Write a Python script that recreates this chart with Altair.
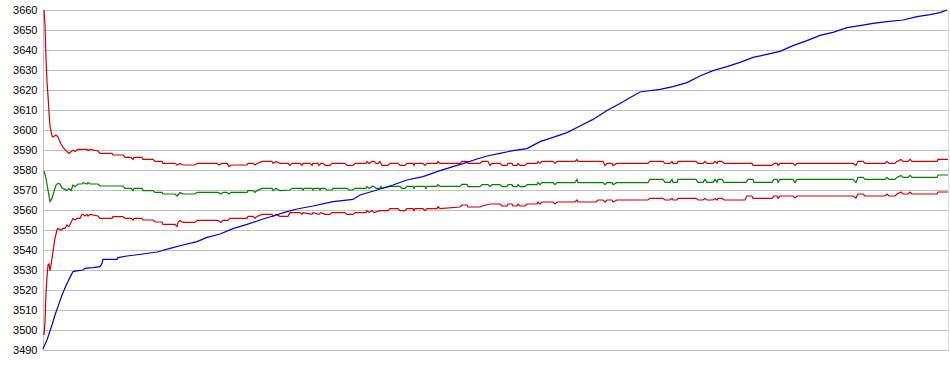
import altair as alt
import pandas as pd

# y-axis tick labels
y_ticks = list(range(3490, 3661, 10))

# Blue series (rising)
blue_x = [0, 1, 4, 9, 12, 15, 19, 24, 29, 30, 35, 40, 42, 50, 57, 59, 60, 74, 75, 84, 100, 114, 127, 140,
          154, 164, 177, 190, 204, 217, 230, 244, 254, 270, 290, 310, 317, 334, 350, 364, 380, 397, 414,
          424, 434, 444, 457, 470, 484, 497, 510, 524, 537, 550, 564, 577, 590, 597, 604, 617, 630, 644,
          657, 670, 684, 697, 710, 724, 737, 750, 764, 777, 790, 804, 817, 830, 844, 860, 874, 887, 897, 904]
blue_v = [3490.5, 3491.7, 3495, 3502.5, 3507.5, 3511.7, 3517.5, 3523.3, 3528.3, 3529.2, 3529.7, 3530,
          3530.8, 3531.2, 3531.7, 3533.3, 3535.3, 3535.3, 3536.2, 3537, 3538, 3539, 3540.8, 3542.5,
          3544.2, 3546.3, 3548, 3550.7, 3552.8, 3555, 3557, 3559.2, 3560.5, 3562, 3564.2, 3565.3, 3567.5,
          3570, 3572.5, 3575, 3576.7, 3579.7, 3582.3, 3583.8, 3585.5, 3587, 3588.3, 3589.7, 3590.7,
          3594.2, 3596.3, 3598.7, 3602, 3605.3, 3609.7, 3613.3, 3617, 3619, 3619.5, 3620.3, 3621.7,
          3623.7, 3627, 3629.7, 3631.7, 3633.8, 3636.3, 3637.8, 3639.3, 3642.2, 3644.7, 3647.3, 3648.8,
          3651.2, 3652.2, 3653.3, 3654.2, 3655, 3656.7, 3657.7, 3658.7, 3660]

# Upper red band
upper_x = [1, 2, 3, 4, 5, 6, 7, 9, 10, 13, 15, 18, 20, 23, 26, 30, 32, 35, 44, 45, 47, 55, 57, 69, 70, 80,
           82, 88, 90, 91, 99, 100, 110, 112, 119, 120, 132, 134, 137, 140, 152, 154, 174, 176, 179, 184,
           186, 188, 204, 205, 210, 212, 214, 219, 229, 230, 233, 237, 245, 247, 249, 257, 259, 260, 267,
           269, 270, 275, 276, 278, 280, 282, 287, 289, 302, 304, 310, 312, 323, 324, 326, 329, 331, 333,
           335, 337, 339, 345, 347, 355, 357, 362, 364, 370, 371, 372, 380, 382, 384, 394, 395, 397, 417,
           419, 424, 425, 437, 439, 445, 447, 449, 457, 459, 464, 465, 469, 470, 474, 475, 477, 482, 484,
           494, 495, 497, 499, 510, 512, 514, 532, 534, 535, 560, 562, 564, 569, 570, 574, 605, 607, 620,
           622, 627, 629, 630, 634, 635, 653, 655, 660, 662, 664, 670, 672, 674, 675, 679, 681, 709, 710,
           729, 731, 734, 735, 737, 750, 752, 754, 810, 813, 815, 820, 822, 842, 844, 846, 852, 854, 858,
           860, 865, 867, 869, 894, 895, 905]
upper_v = [3660, 3652.5, 3636, 3624, 3617, 3609, 3602, 3597, 3596.5, 3597.5, 3596.5, 3593, 3591.3, 3589.7,
           3588.3, 3590, 3589.2, 3590.3, 3590.3, 3589.7, 3590.3, 3589.5, 3588.3, 3588.3, 3587.5, 3587.5,
           3586.3, 3586.3, 3585.3, 3586.3, 3586.3, 3585.3, 3585.3, 3584.3, 3584.3, 3583.3, 3583.3, 3582.5,
           3583.3, 3582.5, 3582.5, 3583.3, 3583.3, 3582.5, 3583.3, 3583.3, 3581.7, 3582.5, 3582.5, 3583.3,
           3583.3, 3582.5, 3583.3, 3584.3, 3584.3, 3583.3, 3584.3, 3583.3, 3583.3, 3582.3, 3583.3, 3583.3,
           3582.3, 3583.3, 3583.3, 3582.3, 3583.3, 3583.3, 3582.3, 3583.3, 3583.3, 3582.3, 3582.3, 3583.3,
           3583.3, 3582.3, 3582.3, 3583.3, 3583.3, 3584.3, 3583.3, 3584.3, 3584.3, 3583.3, 3583.3, 3584.3,
           3582.3, 3582.3, 3583.3, 3583.3, 3582.3, 3582.3, 3583.3, 3583.3, 3582.3, 3583.3, 3583.3, 3582.3,
           3583.3, 3583.3, 3584.3, 3583.3, 3583.3, 3584.3, 3584.3, 3583.3, 3583.3, 3584.3, 3584.3, 3582.3,
           3583.3, 3583.3, 3582.3, 3582.3, 3583.3, 3583.3, 3582.3, 3582.3, 3583.3, 3582.3, 3582.3, 3583.3,
           3583.3, 3584.3, 3583.3, 3584.3, 3584.3, 3583.3, 3584.3, 3584.3, 3585.3, 3584.3, 3584.3, 3582.3,
           3583.3, 3583.3, 3582.3, 3583.3, 3583.3, 3584.3, 3584.3, 3583.3, 3583.3, 3584.3, 3583.3, 3583.3,
           3584.3, 3584.3, 3583.3, 3583.3, 3584.3, 3583.3, 3583.3, 3584.3, 3583.3, 3584.3, 3584.3, 3583.3,
           3583.3, 3582.3, 3582.3, 3583.3, 3583.3, 3582.3, 3583.3, 3583.3, 3582.3, 3583.3, 3583.3, 3582.3,
           3584.3, 3584.3, 3583.3, 3583.3, 3584.3, 3583.3, 3583.3, 3584.3, 3585.3, 3584.3, 3584.3, 3585.3,
           3584.3, 3584.3, 3585.3, 3585.3]

# Middle green line
mid_x = [1, 3, 5, 7, 9, 11, 13, 15, 17, 19, 22, 24, 26, 28, 30, 32, 35, 39, 40, 44, 45, 47, 55, 57, 80, 82,
         88, 90, 91, 99, 100, 110, 112, 119, 120, 132, 134, 137, 140, 152, 154, 175, 178, 180, 184, 186,
         188, 204, 205, 210, 212, 214, 219, 229, 230, 233, 237, 247, 249, 259, 260, 261, 269, 270, 271,
         276, 277, 278, 282, 284, 289, 290, 304, 306, 310, 312, 323, 324, 326, 329, 331, 333, 337, 338,
         339, 347, 357, 359, 362, 364, 370, 371, 372, 382, 383, 384, 394, 395, 397, 417, 419, 424, 425,
         437, 439, 445, 447, 449, 457, 459, 464, 465, 469, 470, 474, 475, 477, 482, 484, 494, 495, 497,
         499, 510, 512, 514, 532, 534, 535, 560, 562, 564, 569, 570, 574, 605, 607, 620, 622, 627, 629,
         630, 634, 635, 653, 655, 660, 662, 664, 670, 672, 674, 675, 679, 681, 703, 705, 710, 711, 729,
         731, 734, 735, 737, 750, 752, 754, 810, 813, 815, 820, 822, 842, 844, 846, 852, 854, 858, 860,
         865, 867, 869, 894, 895, 905]
mid_v = [3579.5, 3575.8, 3570, 3564.2, 3565.8, 3569.2, 3572.5, 3573.3, 3573, 3571, 3570.3, 3569.7, 3570.8,
         3569.7, 3572.5, 3571.7, 3573, 3573, 3573.7, 3573, 3573.7, 3573, 3573, 3572, 3572, 3570.8, 3570.8,
         3569.7, 3570.8, 3570.8, 3569.7, 3569.7, 3568.8, 3568.8, 3568, 3568, 3567, 3568.7, 3568, 3568,
         3568.8, 3568.8, 3568, 3568.8, 3568.8, 3568, 3568.8, 3568.8, 3569.7, 3569.7, 3568.8, 3569.7,
         3570.8, 3570.8, 3569.7, 3570.8, 3569.7, 3570, 3570.8, 3570.8, 3570, 3570.8, 3570.8, 3570, 3570.8,
         3570.8, 3570, 3570.8, 3570.8, 3570, 3570, 3570.8, 3570.8, 3570, 3570, 3570.8, 3570.8, 3571.8,
         3570.8, 3571.8, 3571.8, 3570.8, 3570.8, 3571.8, 3570.8, 3571.8, 3571.8, 3570.8, 3570.8, 3571.8,
         3571.8, 3570.8, 3571.8, 3571.8, 3570.8, 3571.8, 3571.8, 3572.8, 3571.8, 3571.8, 3572.8, 3572.8,
         3571.7, 3571.7, 3572.7, 3572.7, 3571.7, 3572.7, 3572.7, 3571.7, 3571.7, 3572.7, 3572.7, 3571.7,
         3571.7, 3572.7, 3571.7, 3571.7, 3572.7, 3572.7, 3573.7, 3572.7, 3573.7, 3573.7, 3572.7, 3573.7,
         3573.7, 3575.3, 3573.7, 3573.7, 3572.7, 3573.7, 3573.7, 3572.7, 3573.7, 3573.7, 3575.3, 3575.3,
         3573.8, 3573.8, 3575.3, 3573.8, 3573.8, 3575.3, 3575.3, 3573.8, 3573.8, 3575.3, 3573.8, 3573.8,
         3575.3, 3573.8, 3575.3, 3575.3, 3573.8, 3573.8, 3575.3, 3575.3, 3573.8, 3573.8, 3575.3, 3575.3,
         3573.8, 3575.3, 3575.3, 3573.7, 3575.3, 3575.3, 3573.7, 3576.3, 3576.3, 3575.3, 3575.3, 3576.3,
         3575.3, 3575.3, 3576.3, 3577.3, 3576.3, 3576.3, 3577.3, 3576.3, 3576.3, 3577.5, 3577.5]

# Lower red band
lower_x = [1, 2, 3, 4, 5, 6, 7, 8, 10, 12, 14, 15, 18, 20, 22, 24, 26, 29, 30, 32, 34, 37, 39, 40, 42, 44,
           45, 47, 55, 57, 69, 70, 80, 82, 88, 90, 91, 99, 100, 110, 112, 119, 120, 132, 134, 135, 137, 140,
           152, 154, 175, 178, 180, 185, 187, 204, 205, 210, 212, 214, 219, 229, 230, 233, 237, 245, 247,
           257, 259, 260, 269, 270, 276, 278, 282, 287, 289, 302, 304, 310, 312, 323, 324, 326, 329, 331,
           337, 345, 347, 355, 357, 362, 364, 370, 371, 372, 380, 382, 384, 394, 395, 397, 417, 419, 424,
           425, 437, 439, 447, 457, 459, 464, 465, 469, 470, 474, 475, 477, 482, 484, 494, 495, 497, 499,
           510, 512, 514, 532, 534, 535, 553, 555, 560, 562, 564, 569, 570, 574, 605, 607, 620, 622, 627,
           629, 630, 634, 635, 653, 655, 660, 662, 664, 670, 672, 674, 675, 679, 681, 702, 704, 709, 710,
           729, 731, 734, 735, 737, 750, 752, 754, 810, 813, 815, 820, 822, 842, 844, 846, 852, 854, 858,
           860, 865, 867, 869, 894, 895, 905]
lower_v = [3497.5, 3504.2, 3518.3, 3526.7, 3532.5, 3533, 3529.7, 3532.5, 3539.2, 3546, 3550, 3550.8, 3550,
           3550.8, 3550.8, 3552.5, 3551.7, 3554.7, 3555.8, 3555, 3555.8, 3555.8, 3557.8, 3557.8, 3557,
           3557.8, 3557, 3557.8, 3557, 3555.8, 3555.8, 3556.7, 3556.7, 3555.8, 3555.8, 3555, 3555.8, 3555.8,
           3555, 3555, 3554, 3554, 3552.8, 3552.8, 3551.7, 3553.8, 3554.7, 3553.8, 3553.8, 3554.8, 3554.8,
           3553.8, 3554.8, 3554.8, 3555.8, 3555.8, 3556.8, 3556.8, 3555.8, 3556.8, 3557.8, 3557.8, 3556.8,
           3557.8, 3556.8, 3556.8, 3558.7, 3558.7, 3557.8, 3558.7, 3557.8, 3558.7, 3557.8, 3558.7, 3557.8,
           3557.8, 3558.7, 3558.7, 3557.8, 3557.8, 3558.7, 3558.7, 3559.7, 3558.7, 3559.7, 3558.7, 3559.7,
           3559.7, 3560.7, 3560.7, 3559.7, 3559.7, 3560.7, 3560.7, 3559.7, 3560.7, 3560.7, 3559.7, 3560.7,
           3560.7, 3561.7, 3560.7, 3561.5, 3562.5, 3562.5, 3561.5, 3561.5, 3562, 3563, 3563, 3562, 3562,
           3563, 3563, 3562, 3562, 3563, 3562, 3562, 3563, 3563, 3564, 3563, 3564, 3564, 3563, 3564, 3564,
           3565, 3564, 3564, 3565, 3565, 3564, 3565, 3565, 3564, 3565, 3565, 3565.8, 3565.8, 3565, 3565,
           3565.8, 3565, 3565, 3565.8, 3565.8, 3565, 3565, 3565.8, 3565, 3565, 3565.8, 3565, 3565.8,
           3565.8, 3565, 3565, 3567, 3567, 3565.8, 3565.8, 3567, 3567, 3565.8, 3567, 3567, 3566, 3567, 3567,
           3566, 3568, 3568, 3567, 3567, 3568, 3567, 3567, 3568, 3569, 3568, 3568, 3569, 3568, 3568, 3569,
           3569]

series_names = ["upper", "lower", "mid", "blue"]
series_colors = ["#CC0000", "#CC0000", "#008000", "#0000CC"]

frames = []
for name, xs, vs in [("upper", upper_x, upper_v), ("lower", lower_x, lower_v),
                     ("mid", mid_x, mid_v), ("blue", blue_x, blue_v)]:
    frames.append(pd.DataFrame({"x": xs, "v": vs, "s": name}))
df = pd.concat(frames, ignore_index=True)

chart = alt.Chart(df).mark_line(strokeWidth=1.2, interpolate="linear").encode(
    x=alt.X("x:Q", scale=alt.Scale(domain=[0, 905], nice=False, zero=False), axis=None),
    y=alt.Y("v:Q",
            scale=alt.Scale(domain=[3490, 3660], nice=False, zero=False),
            axis=alt.Axis(values=y_ticks, format="d", title=None, grid=True, gridColor="#C0C0C0",
                          gridWidth=1, ticks=False, domain=True, domainColor="#C0C0C0",
                          labelFont="Liberation Sans", labelFontSize=11, labelColor="#000000",
                          labelPadding=6, labelFlush=False, labelOverlap=False)),
    color=alt.Color("s:N", scale=alt.Scale(domain=series_names, range=series_colors), legend=None),
    detail="s:N",
).properties(
    width=905, height=340,
    autosize=alt.AutoSizeParams(type="none"),
    padding={"left": 43, "top": 10, "right": 2, "bottom": 25},
).configure_view(strokeWidth=0).configure(background="white")

chart.save("out.html", embed_options={"renderer": "svg", "actions": False})
